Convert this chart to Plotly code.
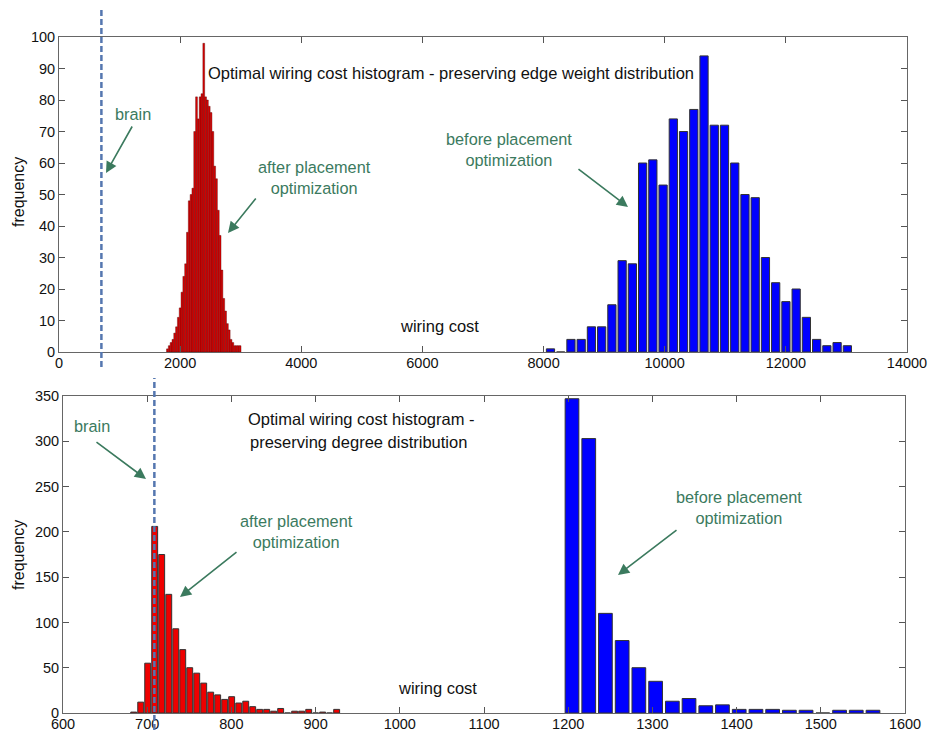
import plotly.graph_objects as go

# ---------------- data ----------------
# Top panel: preserving edge weight distribution
top_after_x = [1790, 1820, 1850, 1880, 1910, 1940, 1970, 2000, 2030, 2060, 2090, 2120, 2150, 2180,
               2210, 2240, 2270, 2300, 2330, 2360, 2390, 2420, 2450, 2480, 2510, 2540, 2570, 2600,
               2630, 2660, 2690, 2720, 2750, 2780, 2810, 2840, 2870, 2900, 2930, 2960, 2990]
top_after_y = [1, 2, 3, 4, 6, 8, 11, 14, 19, 24, 28, 38, 48, 50,
               52, 70, 81, 74, 81, 82, 98, 81, 80, 78, 76, 70, 59, 55,
               45, 37, 26, 17, 13, 9, 7, 4, 3, 2, 2, 2, 2]

top_before_x = [8114, 8283, 8452, 8621, 8790, 8959, 9128, 9297, 9466, 9635, 9804, 9973, 10142, 10311,
                10480, 10649, 10818, 10987, 11156, 11325, 11494, 11663, 11832, 12001, 12170, 12339,
                12508, 12677, 12846, 13015]
top_before_y = [1, 0, 4, 4, 8, 8, 15, 29, 28, 60, 61, 53, 74, 70,
                77, 94, 72, 72, 60, 50, 49, 30, 22, 16, 20, 11,
                4, 2, 3, 2]

# Bottom panel: preserving degree distribution
bot_after_x = [684.0, 692.3, 700.6, 708.9, 717.2, 725.6, 733.9, 742.2, 750.5, 758.8, 767.1, 775.4,
               783.7, 792.0, 800.3, 808.7, 817.0, 825.3, 833.6, 841.9, 850.2, 858.5, 866.8, 875.1,
               883.4, 891.8, 900.1, 908.4, 916.7, 925.0]
bot_after_y = [1, 12, 55, 206, 175, 131, 93, 70, 50, 44, 33, 23,
               20, 15, 18, 11, 13, 7, 4, 4, 2, 5, 0, 2,
               2, 4, 0, 1, 0, 4]

bot_before_x = [1204.5, 1224.4, 1244.2, 1264.1, 1283.9, 1303.8, 1323.7, 1343.5, 1363.4, 1383.2,
                1403.1, 1423.0, 1442.8, 1462.7, 1482.5, 1502.4, 1522.3, 1542.1, 1562.0]
bot_before_y = [347, 303, 110, 80, 50, 35, 13, 16, 8, 9,
                4, 4, 4, 3, 3, 0, 3, 3, 3]

brain_top = 700
brain_bot = 708.5

top_xticks = [0, 2000, 4000, 6000, 8000, 10000, 12000, 14000]
top_yticks = [0, 10, 20, 30, 40, 50, 60, 70, 80, 90, 100]
bot_xticks = [600, 700, 800, 900, 1000, 1100, 1200, 1300, 1400, 1500, 1600]
bot_yticks = [0, 50, 100, 150, 200, 250, 300, 350]

# ---------------- layout helpers ----------------
W, H = 928, 735
def px(x):
    return x / W
def py(y):
    return 1 - y / H

FONT = "Liberation Sans, Arial, sans-serif"
GREEN = "#3b7a5e"
DASH_BLUE = "#5577b0"

fig = go.Figure()

fig.add_trace(go.Bar(x=top_after_x, y=top_after_y, width=30,
                     marker=dict(color="#dd0000", line=dict(color="#500000", width=0.4)),
                     xaxis="x", yaxis="y", showlegend=False))
fig.add_trace(go.Bar(x=top_before_x, y=top_before_y, width=136,
                     marker=dict(color="#0000ff", line=dict(color="#333333", width=1)),
                     xaxis="x", yaxis="y", showlegend=False))
fig.add_trace(go.Bar(x=bot_after_x, y=bot_after_y, width=7.0,
                     marker=dict(color="#ee0000", line=dict(color="#333333", width=1)),
                     xaxis="x2", yaxis="y2", showlegend=False))
fig.add_trace(go.Bar(x=bot_before_x, y=bot_before_y, width=16.3,
                     marker=dict(color="#0000ff", line=dict(color="#333333", width=1)),
                     xaxis="x2", yaxis="y2", showlegend=False))

axis_common = dict(showline=True, linecolor="#666666", linewidth=1, mirror="ticks",
                   ticks="inside", ticklen=6, tickcolor="#555555", showgrid=False,
                   zeroline=False, automargin=False,
                   tickfont=dict(family=FONT, size=14.5, color="#111111"))

fig.update_layout(
    width=W, height=H,
    margin=dict(l=0, r=0, t=0, b=0),
    paper_bgcolor="white", plot_bgcolor="white",
    barmode="overlay",
    xaxis=dict(domain=[px(59), px(907)], range=[0, 14000], tickvals=top_xticks,
               ticktext=[str(v) for v in top_xticks], anchor="y",
               ticklabelstandoff=-2, **axis_common),
    yaxis=dict(domain=[py(352), py(37)], range=[0, 100], tickvals=top_yticks,
               ticktext=[str(v) for v in top_yticks], anchor="x", **axis_common),
    xaxis2=dict(domain=[px(63), px(905)], range=[600, 1600], tickvals=bot_xticks,
                ticktext=[str(v) for v in bot_xticks], anchor="y2",
                ticklabelstandoff=-2, **axis_common),
    yaxis2=dict(domain=[py(713), py(396)], range=[0, 350], tickvals=bot_yticks,
                ticktext=[str(v) for v in bot_yticks], anchor="x2", **axis_common),
)

# brain dashed lines
fig.add_shape(type="line", xref="x", yref="paper", x0=brain_top, x1=brain_top,
              y0=py(367), y1=py(10), line=dict(color=DASH_BLUE, width=2.5, dash="6px,3px"))
fig.add_shape(type="line", xref="x2", yref="paper", x0=brain_bot, x1=brain_bot,
              y0=py(730), y1=py(378), line=dict(color=DASH_BLUE, width=2.5, dash="6px,3px"))

def text(x, y, s, color="#111111", size=16.5, angle=0):
    fig.add_annotation(x=px(x), y=py(y), xref="paper", yref="paper", text=s,
                       showarrow=False, xanchor="center", yanchor="middle",
                       textangle=angle, font=dict(family=FONT, size=size, color=color))

def arrow(tail, head):
    fig.add_annotation(x=px(head[0]), y=py(head[1]), xref="paper", yref="paper", text="",
                       showarrow=True, ax=tail[0] - head[0], ay=tail[1] - head[1],
                       arrowhead=2, arrowsize=1.4, arrowwidth=1.6, arrowcolor=GREEN)

# top panel texts
text(451, 73, "Optimal wiring cost histogram - preserving edge weight distribution")
text(439, 326, "wiring cost")
text(18, 192, "frequency", size=16, angle=-90)
text(133, 114, "brain", color=GREEN, size=16.3)
text(314, 177, "after placement<br>optimization", color=GREEN, size=16.3)
text(509, 149, "before placement<br>optimization", color=GREEN, size=16.3)
arrow((133, 125), (106, 173))
arrow((257, 197), (228, 233))
arrow((577, 168), (628, 207))

# bottom panel texts
text(361, 419, "Optimal wiring cost histogram -")
text(358, 442, "preserving degree distribution")
text(437, 688, "wiring cost")
text(18, 555, "frequency", size=16, angle=-90)
text(92, 426, "brain", color=GREEN, size=16.3)
text(296, 531, "after placement<br>optimization", color=GREEN, size=16.3)
text(739, 507, "before placement<br>optimization", color=GREEN, size=16.3)
arrow((95, 441), (146, 479))
arrow((238, 551), (180, 597))
arrow((678, 529), (618, 575))

fig.write_html("out.html")
